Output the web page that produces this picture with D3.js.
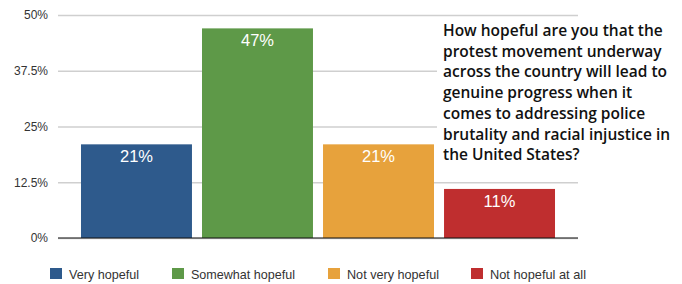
<!DOCTYPE html>
<html>
<head>
<meta charset="utf-8">
<script src="https://cdn.jsdelivr.net/npm/d3@7"></script>
<style>
  body { margin: 0; background: #fff; }
  svg { display: block; }
</style>
</head>
<body>
<svg id="chart" width="682" height="284"></svg>
<script>
/************************* Data *************************/
const categories = ["Very hopeful", "Somewhat hopeful", "Not very hopeful", "Not hopeful at all"];
const values     = [21, 47, 21, 11];
const colors     = ["#2e5a8c", "#5e9948", "#e7a23c", "#bf2e2f"];
const yTicks     = [0, 12.5, 25, 37.5, 50];
const title = [
  "How hopeful are you that the",
  "protest movement underway",
  "across the country will lead to",
  "genuine progress when it",
  "comes to addressing police",
  "brutality and racial injustice in",
  "the United States?"
];

/************************* Layout *************************/
const svg = d3.select("#chart");
const plot = {left: 58, right: 578, top: 15, bottom: 238};

const x = d3.scaleBand()
  .domain(categories)
  .range([plot.left, plot.right])
  .paddingInner(0.083)
  .paddingOuter(0.19);

const y = d3.scaleLinear()
  .domain([0, 50])
  .range([plot.bottom, plot.top]);

// Gridlines + tick labels
const yAxis = d3.axisLeft(y)
  .tickValues(yTicks)
  .tickSize(-(plot.right - plot.left))
  .tickPadding(10)
  .tickFormat(d => d + "%");

svg.append("g")
  .attr("transform", `translate(${plot.left},0)`)
  .call(yAxis)
  .call(g => g.select(".domain").remove())
  .call(g => g.selectAll(".tick line").attr("stroke", "#cfcfcf").attr("stroke-width", 1.5))
  .call(g => g.selectAll(".tick text")
    .attr("fill", "#333")
    .style("font-family", "'Liberation Sans', Arial, sans-serif")
    .style("font-size", "12px"));

// Bars
svg.append("g").selectAll("rect")
  .data(values)
  .join("rect")
    .attr("x", (d, i) => x(categories[i]))
    .attr("y", d => y(d))
    .attr("width", x.bandwidth())
    .attr("height", d => y(0) - y(d))
    .attr("fill", (d, i) => colors[i]);

// Baseline
svg.append("line")
  .attr("x1", plot.left).attr("x2", plot.right)
  .attr("y1", y(0)).attr("y2", y(0))
  .attr("stroke", "#111").attr("stroke-width", 1.2);

// Value labels
svg.append("g").selectAll("text")
  .data(values)
  .join("text")
    .attr("x", (d, i) => x(categories[i]) + x.bandwidth() / 2)
    .attr("y", d => y(d) + 18)
    .attr("text-anchor", "middle")
    .attr("fill", "#fff")
    .style("font-family", "'Liberation Sans', Arial, sans-serif")
    .style("font-size", "16.5px")
    .text(d => d + "%");

// Question box, covers the gridlines
svg.append("rect")
  .attr("x", 437).attr("y", 20)
  .attr("width", 245).attr("height", 150)
  .attr("fill", "#fff");

svg.append("text")
  .attr("x", 443)
  .attr("y", 36)
  .attr("fill", "#111")
  .style("font-family", "'Open Sans', sans-serif")
  .style("font-weight", "600")
  .style("font-size", "15.5px")
  .selectAll("tspan")
  .data(title)
  .join("tspan")
    .attr("x", 443)
    .attr("dy", (d, i) => i ? 20.7 : 0)
    .text(d => d);

// Legend
const legendX = [50, 172, 328, 471];
const legendW = [70, 104, 92, 96];
const legend = svg.append("g").selectAll("g")
  .data(categories)
  .join("g")
    .attr("transform", (d, i) => `translate(${legendX[i]},268)`);

legend.append("rect")
  .attr("width", 12).attr("height", 11)
  .attr("fill", (d, i) => colors[i]);

legend.append("text")
  .attr("x", 19)
  .attr("y", 11)
  .attr("fill", "#333")
  .attr("textLength", (d, i) => legendW[i])
  .attr("lengthAdjust", "spacingAndGlyphs")
  .style("font-family", "'Liberation Sans', Arial, sans-serif")
  .style("font-size", "13px")
  .text(d => d);
</script>
</body>
</html>
